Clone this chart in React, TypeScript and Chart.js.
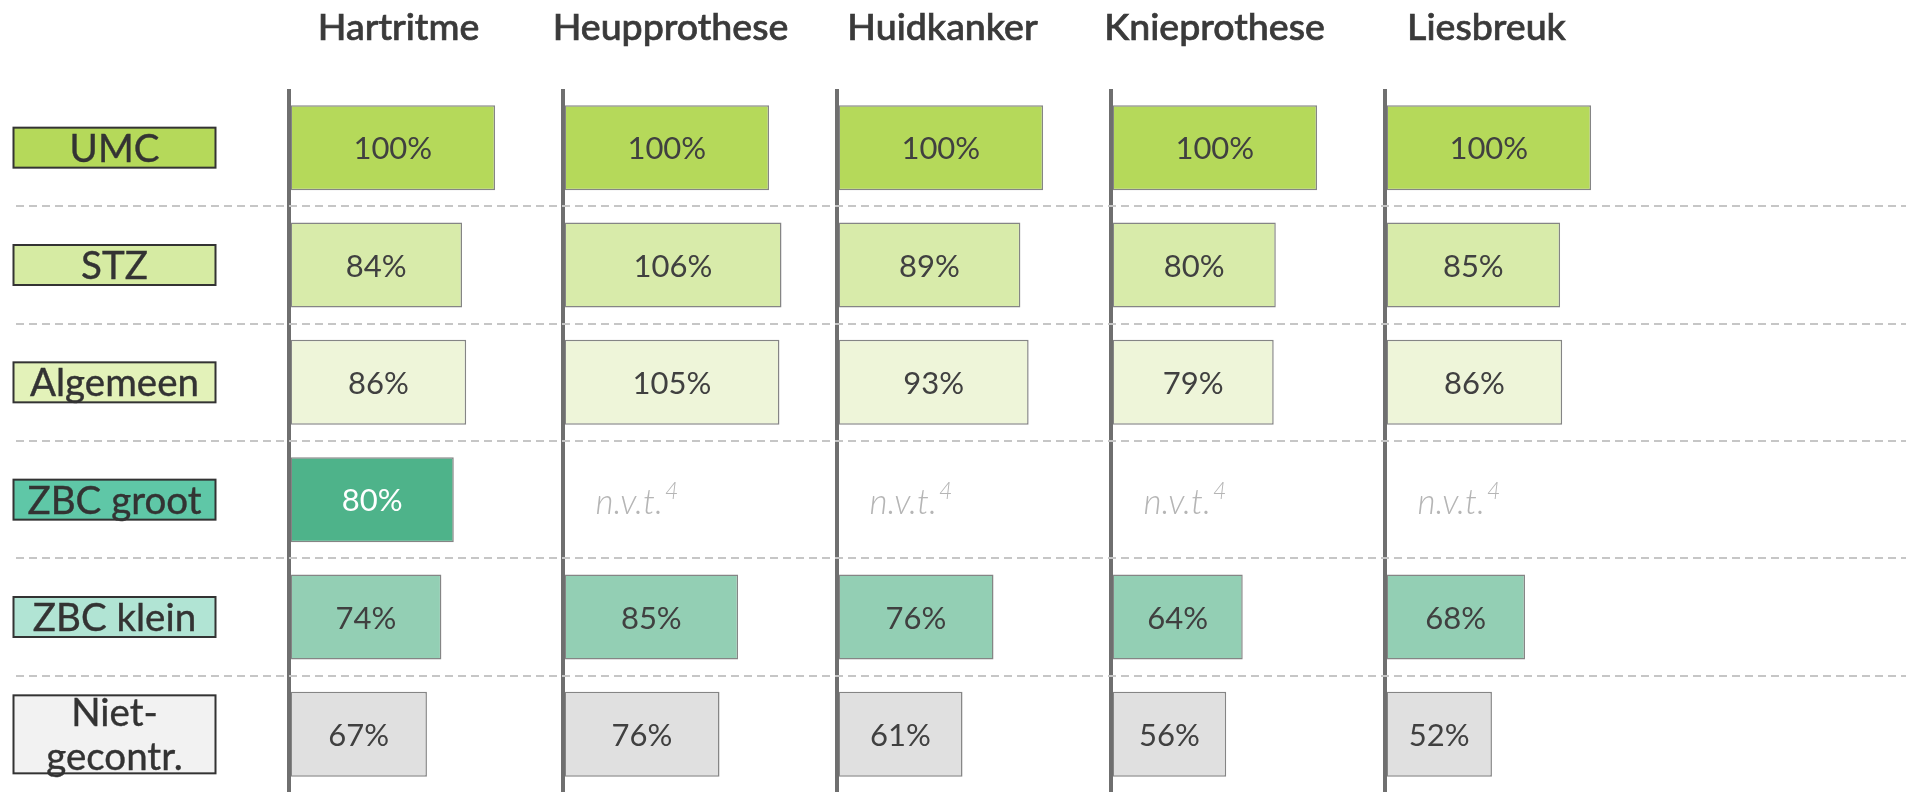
import React, { useEffect, useRef } from "react";
import { Chart, registerables } from "chart.js";

Chart.register(...registerables);

// ---------- data ----------
const rows = ["UMC", "STZ", "Algemeen", "ZBC groot", "ZBC klein", "Niet-gecontr."];
const rowLabelLines = [["UMC"], ["STZ"], ["Algemeen"], ["ZBC groot"], ["ZBC klein"], ["Niet-", "gecontr."]];
const procedures = ["Hartritme", "Heupprothese", "Huidkanker", "Knieprothese", "Liesbreuk"];
const hartritme = [100, 84, 86, 80, 74, 67];
const heupprothese = [100, 106, 105, null, 85, 76];
const huidkanker = [100, 89, 93, null, 76, 61];
const knieprothese = [100, 80, 79, null, 64, 56];
const liesbreuk = [100, 85, 86, null, 68, 52];
const notApplicableText = "n.v.t.";
const notApplicableNote = "4";

// ---------- styles ----------
const barColors = ["#b5d95a", "#d8ebaa", "#eef5d9", "#4eb38a", "#93cfb4", "#e0e0e0"];
const boxColors = ["#b5d95a", "#d6eba3", "#e3f2b9", "#5fc7a7", "#b1e4d4", "#f2f2f2"];
const valueColors = ["#404040", "#404040", "#404040", "#ffffff", "#404040", "#404040"];

const W = 1906;
const H = 793;
const AXIS_LEFT = 288.5;
const PANEL = 274;
const PX_PER_100 = 206.6;
const TOP = 89;
const panelWidths = [PANEL, PANEL, PANEL, PANEL, W - AXIS_LEFT - PANEL * 4];
const series = [hartritme, heupprothese, huidkanker, knieprothese, liesbreuk];

const FONT = "Lato, 'Open Sans', sans-serif";

const overlayPlugin = {
  id: "overlay",
  afterDraw(chart: any) {
    const ctx = chart.ctx as CanvasRenderingContext2D;
    const y = chart.scales.y;
    ctx.save();

    // panel titles
    ctx.fillStyle = "#3a3a3a";
    ctx.strokeStyle = "#3a3a3a";
    ctx.lineWidth = 0.7;
    ctx.font = `500 37.5px ${FONT}`;
    ctx.textAlign = "center";
    ctx.textBaseline = "alphabetic";
    procedures.forEach((p, i) => {
      const xs = chart.scales["x" + i];
      const x0 = xs.getPixelForValue(0);
      const cx = x0 + 110 - i * 2;
      ctx.fillText(p, cx, 40);
      ctx.strokeText(p, cx, 40);
    });

    // row label boxes
    rowLabelLines.forEach((lines, i) => {
      const cy = y.getPixelForValue(i);
      const h = lines.length > 1 ? 78 : 40;
      ctx.fillStyle = boxColors[i];
      ctx.fillRect(13.5, cy - h / 2, 202, h);
      ctx.lineWidth = 2;
      ctx.strokeStyle = "#333333";
      ctx.strokeRect(13.5, cy - h / 2, 202, h);
      ctx.fillStyle = "#333333";
      ctx.strokeStyle = "#333333";
      ctx.lineWidth = 0.4;
      ctx.font = `38.5px ${FONT}`;
      ctx.textAlign = "center";
      const draw = (t: string, yy: number) => {
        ctx.fillText(t, 114.5, yy, 192);
        ctx.strokeText(t, 114.5, yy, 192);
      };
      if (lines.length === 1) {
        draw(lines[0], cy + 14);
      } else {
        draw(lines[0], cy - 8);
        draw(lines[1], cy + 36);
      }
    });

    // value labels and n.v.t.
    chart.data.datasets.forEach((ds: any, di: number) => {
      const meta = chart.getDatasetMeta(di);
      const xs = chart.scales["x" + di];
      ds.data.forEach((v: number | null, ri: number) => {
        const cy = y.getPixelForValue(ri);
        if (v === null || v === undefined) {
          const x = xs.getPixelForValue(0) + 33;
          ctx.fillStyle = "#b5b5b5";
          ctx.textAlign = "left";
          ctx.font = `italic 300 35px ${FONT}`;
          ctx.fillText(notApplicableText, x, cy + 14);
          const w = ctx.measureText(notApplicableText).width;
          ctx.font = `italic 300 23px ${FONT}`;
          ctx.fillText(notApplicableNote, x + w + 2, cy - 1);
          return;
        }
        const el = meta.data[ri];
        const cx = (el.x + el.base) / 2;
        ctx.fillStyle = valueColors[ri];
        ctx.textAlign = "center";
        ctx.font = `31px ${FONT}`;
        ctx.fillText(`${v}%`, cx, cy + 11.5);
      });
    });

    ctx.restore();
  },
};

export default function App() {
  const ref = useRef<HTMLCanvasElement | null>(null);

  useEffect(() => {
    const canvas = ref.current;
    if (!canvas) return;

    const scales: any = {};
    // top boxes are laid out in reverse insertion order, so add the last panel first
    for (let i = panelWidths.length - 1; i >= 0; i--) {
      const w = panelWidths[i];
      scales["x" + i] = {
        type: "linear",
        position: "top",
        stack: "panels",
        stackWeight: w,
        min: 0,
        max: (w / PX_PER_100) * 100,
        ticks: { display: false },
        border: { display: false },
        grid: {
          drawTicks: false,
          lineWidth: 4,
          z: 1,
          color: (c: any) => (c.tick && c.tick.value === 0 ? "#6f6f6f" : "rgba(0,0,0,0)"),
        },
        afterFit: (s: any) => {
          s.height = 0;
        },
      };
    }
    scales.y = {
      type: "category",
      labels: rows,
      position: "left",
      offset: true,
      ticks: { display: false },
      border: { display: false, dash: [8, 5] },
      grid: {
        offset: true,
        z: 2,
        lineWidth: 2,
        tickWidth: 2,
        tickLength: AXIS_LEFT - 16,
        tickBorderDash: [8, 5],
        color: (c: any) => (c.index === 0 ? "rgba(0,0,0,0)" : "#c6c6c6"),
        tickColor: (c: any) => (c.index === 0 ? "rgba(0,0,0,0)" : "#c6c6c6"),
      },
      afterFit: (s: any) => {
        s.width = AXIS_LEFT;
      },
    };

    const chart = new Chart(canvas, {
      type: "bar",
      data: {
        labels: rows,
        datasets: series.map((d, i) => ({
          label: procedures[i],
          data: d as any,
          xAxisID: "x" + i,
          yAxisID: "y",
          backgroundColor: barColors,
          borderColor: "#858585",
          borderWidth: 1.5,
          borderSkipped: false,
          grouped: false,
          categoryPercentage: 1,
          barPercentage: 0.725,
        })),
      },
      options: {
        indexAxis: "y",
        responsive: false,
        animation: false,
        events: [],
        layout: { padding: { top: TOP, left: 0, right: 0, bottom: 0 } },
        plugins: { legend: { display: false }, tooltip: { enabled: false } },
        scales,
      } as any,
      plugins: [overlayPlugin],
    });
    return () => chart.destroy();
  }, []);

  return (
    <div
      style={{
        position: "fixed",
        left: 0,
        top: 0,
        width: W,
        height: 792,
        overflow: "hidden",
        background: "#ffffff",
      }}
    >
      <canvas ref={ref} width={W} height={H} style={{ width: W, height: H, display: "block" }} />
    </div>
  );
}
